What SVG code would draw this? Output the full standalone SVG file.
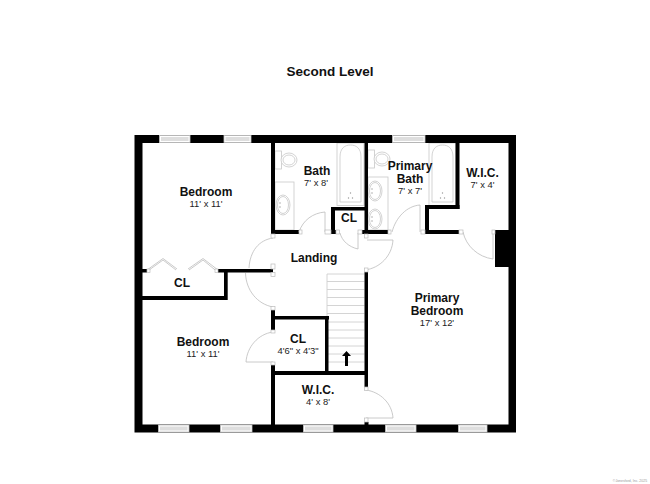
<svg xmlns="http://www.w3.org/2000/svg" width="650" height="484" viewBox="0 0 650 484">
<style>
text{font-family:"Liberation Sans",Arial,sans-serif;text-anchor:middle;fill:#111}
.n{font-size:12px;font-weight:bold}
.s{font-size:9.400px;fill:#222}
.w{fill:#000}
.f{fill:#fff;stroke:#c8c8c8;stroke-width:.8}
.d{fill:none;stroke:#bcbcbc;stroke-width:.8}
.j{fill:#fff;stroke:#bcbcbc;stroke-width:.7}
.win{fill:#fff;stroke:#c4c4c4;stroke-width:.8}
.band{fill:#dedede}
.t{stroke:#cfcfcf;stroke-width:.9;fill:none}
</style>
<defs>
<g id="sink"><ellipse class="f" cx="0" cy="0" rx="7" ry="10"/><ellipse class="f" cx="0" cy="0" rx="5.500" ry="8.500"/><circle cx="-3" cy="-2" r=".7" fill="#999"/><circle cx="-3" cy="2" r=".7" fill="#999"/></g>
<g id="toilet"><rect class="f" x="0" y="0" width="6.500" height="18"/><ellipse class="f" cx="14" cy="9" rx="8" ry="7"/><ellipse class="f" cx="14" cy="9" rx="6" ry="5"/></g>
<g id="tub"><rect class="f" x="0" y="0" width="27" height="62.500"/><path class="f" d="M3 59V14C3 5 8 2 13.500 2S24 5 24 14V59Z"/><circle cx="13.500" cy="50" r=".7" fill="#999"/><circle cx="11.500" cy="55" r=".7" fill="#999"/><circle cx="15.500" cy="55" r=".7" fill="#999"/></g>
</defs>
<rect width="650" height="484" fill="#fff"/>
<text x="330" y="76" style="font-size:13.500px;font-weight:bold">Second Level</text>

<g id="fixtures">
<use href="#toilet" x="275" y="151"/>
<rect class="f" x="275" y="182" width="19" height="48"/>
<use href="#sink" x="283" y="205"/>
<use href="#tub" x="337" y="143"/>
<use href="#toilet" x="368" y="150"/>
<rect class="f" x="368" y="177" width="20" height="53"/>
<use href="#sink" x="375" y="191"/>
<use href="#sink" x="375" y="219"/>
<use href="#tub" x="429" y="143"/>
</g>

<g id="stairs">
<path class="t" d="M327 274H364.500M327 274V372M327 281.500H364.500M327 289.500H364.500M327 297.500H364.500M327 305.500H364.500M327 313.500H364.500M327 322H364.500M327 330H364.500M327 338H364.500M327 346H364.500M327 354H364.500M327 362H364.500"/>
<path fill="#000" d="M345 366V356H342L346.500 351 351 356H348V366Z"/>
</g>

<g id="walls" class="w">
<path d="M134.500 135H516V432.500H134.500ZM142.500 143V424.500H508.500V143Z" fill-rule="evenodd"/>
<rect x="271" y="143" width="4" height="91"/>
<rect x="271" y="230" width="28" height="4"/>
<rect x="331" y="207" width="37" height="3.500"/>
<rect x="331" y="207" width="4" height="27"/>
<rect x="331" y="230" width="5" height="4"/>
<rect x="364.500" y="143" width="3.500" height="91"/>
<rect x="362" y="230" width="26" height="4"/>
<rect x="425" y="205" width="4" height="29"/>
<rect x="425" y="205" width="34.500" height="4"/>
<rect x="455.500" y="143" width="4" height="66"/>
<rect x="425" y="230" width="34" height="4"/>
<rect x="495" y="230" width="14" height="37"/>
<rect x="364.500" y="272" width="3.500" height="115"/>
<rect x="271" y="371" width="97" height="4"/>
<rect x="271" y="310" width="4" height="23"/>
<rect x="271" y="365" width="4" height="60"/>
<rect x="271" y="316" width="58" height="3.500"/>
<rect x="325" y="316" width="3.500" height="59"/>
<rect x="218" y="269" width="55" height="3.500"/>
<rect x="142" y="269" width="5" height="3.500"/>
<rect x="224" y="269" width="3.700" height="31"/>
<rect x="142" y="296" width="85" height="4"/>
<rect x="364.500" y="422" width="4" height="3"/>
</g>

<g id="windows">
<rect class="win" x="159.500" y="135.500" width="30.500" height="7"/><rect class="band" x="161" y="137" width="27.500" height="4"/>
<rect class="win" x="224" y="135.500" width="27" height="7"/><rect class="band" x="225.500" y="137" width="24" height="4"/>
<rect class="win" x="392.500" y="135.500" width="32.500" height="7"/><rect class="band" x="394" y="137" width="29.500" height="4"/>
<rect class="win" x="158.500" y="425" width="30.500" height="7"/><rect class="band" x="160" y="426.500" width="27.500" height="4"/>
<rect class="win" x="220.500" y="425" width="31.500" height="7"/><rect class="band" x="222" y="426.500" width="28.500" height="4"/>
<rect class="win" x="303.500" y="425" width="29.500" height="7"/><rect class="band" x="305" y="426.500" width="26.500" height="4"/>
<rect class="win" x="385.500" y="425" width="30.500" height="7"/><rect class="band" x="387" y="426.500" width="27.500" height="4"/>
<rect class="win" x="458.500" y="425" width="28.500" height="7"/><rect class="band" x="460" y="426.500" width="25.500" height="4"/>
</g>

<g id="doors">
<path class="d" d="M273 238C259 240 250 251 249 268"/>
<path class="d" d="M245.500 273C246 290 257 304 273 307"/>
<path class="d" d="M299 232C303 220 313 213 325 212V232"/>
<path class="d" d="M340 233C342 241 349 247 358 249V233"/>
<path class="d" d="M392 232C396 217 407 206 420 205V232"/>
<path class="d" d="M393 240C392 256 380 268 365 270M367 240H393"/>
<path class="d" d="M463 232C466 246 478 257 493 259V232"/>
<path class="d" d="M273 332C258 334 247 347 246 362H273"/>
<path class="d" d="M366 390C380 392 392 403 393 418H366"/>
<path class="d" d="M147 271.500L163 260 176 270M147 270L163 258.500 177 269M189 270L203 260 217 271.500M188 269L203 258.500 218 270"/>
<rect class="j" x="271" y="234" width="4" height="4"/>
<rect class="j" x="271" y="264" width="4" height="5"/>
<rect class="j" x="271" y="272.500" width="4" height="4"/>
<rect class="j" x="271" y="306.500" width="4" height="3.500"/>
<rect class="j" x="271" y="330" width="4" height="3"/>
<rect class="j" x="271" y="362" width="4" height="3"/>
<rect class="j" x="364.500" y="387" width="3.500" height="3.500"/>
<rect class="j" x="364.500" y="418" width="3.500" height="4"/>
<rect class="j" x="364.500" y="234" width="3.500" height="4"/>
<rect class="j" x="364.500" y="268" width="3.500" height="4"/>
<rect class="j" x="299" y="230" width="3" height="4"/>
<rect class="j" x="325" y="230" width="6" height="4"/>
<rect class="j" x="336" y="230" width="3.500" height="4"/>
<rect class="j" x="358" y="230" width="4" height="4"/>
<rect class="j" x="388" y="230" width="3" height="4"/>
<rect class="j" x="421" y="230" width="4" height="4"/>
<rect class="j" x="459" y="230" width="4" height="4"/>
<rect class="j" x="492" y="230" width="3" height="4"/>
<rect class="j" x="147" y="269" width="3" height="3.500"/>
<rect class="j" x="215" y="269" width="3" height="3.500"/>
</g>

<g id="bedroom1"><text class="n" x="206" y="196">Bedroom</text><text class="s" x="206" y="206.500">11' x 11'</text></g>
<g id="bedroom2"><text class="n" x="203" y="346">Bedroom</text><text class="s" x="203" y="356.500">11' x 11'</text></g>
<g id="bath"><text class="n" x="317" y="175">Bath</text><text class="s" x="316" y="185.500">7' x 8'</text></g>
<g id="primary-bath"><text class="n" x="410" y="170">Primary</text><text class="n" x="410" y="183">Bath</text><text class="s" x="410" y="193.500">7' x 7'</text></g>
<g id="wic1"><text class="n" x="482.500" y="177">W.I.C.</text><text class="s" x="482.500" y="188">7' x 4'</text></g>
<g id="cl1"><text class="n" x="349" y="222">CL</text></g>
<g id="landing"><text class="n" x="314" y="262">Landing</text></g>
<g id="cl2"><text class="n" x="182" y="287">CL</text></g>
<g id="cl3"><text class="n" x="298" y="343">CL</text><text class="s" x="298" y="353.500">4'6" x 4'3"</text></g>
<g id="wic2"><text class="n" x="318" y="394">W.I.C.</text><text class="s" x="318" y="405">4' x 8'</text></g>
<g id="primary-bedroom"><text class="n" x="437" y="302">Primary</text><text class="n" x="437" y="315">Bedroom</text><text class="s" x="437" y="325.500">17' x 12'</text></g>
<text x="630" y="482" style="font-size:3.500px;fill:#999">©Jonesford, Inc. 2025</text>
</svg>
